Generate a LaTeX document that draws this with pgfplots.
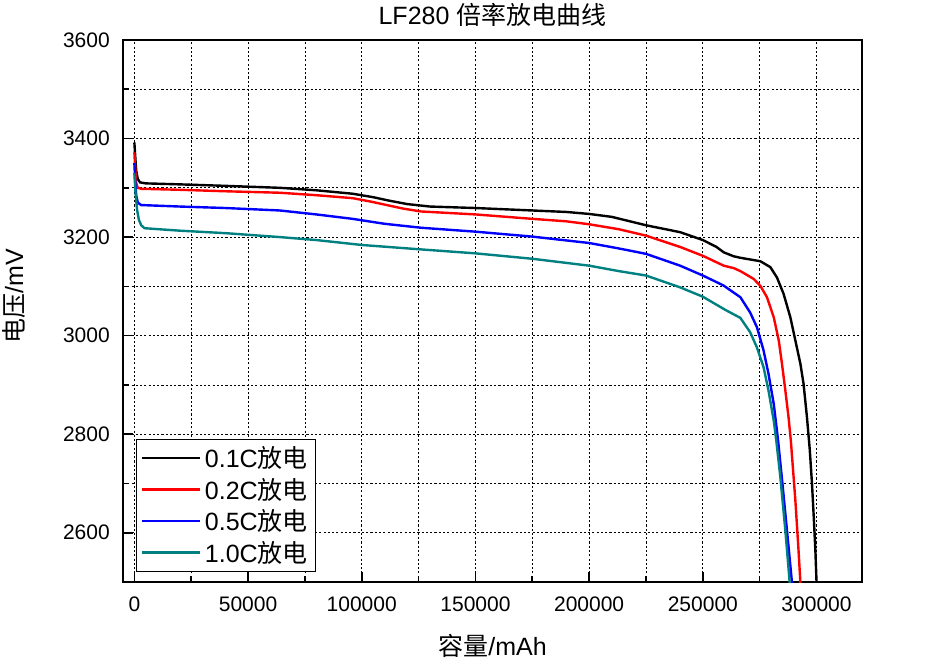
\documentclass[border=0pt]{standalone}
\usepackage{fontspec}
\setmainfont{Liberation Sans}
\newfontfamily\cjk{Noto Sans CJK SC}
\usepackage{pgfplots}
\pgfplotsset{compat=1.18}
\definecolor{cteal}{RGB}{0,128,128}
\definecolor{cred}{RGB}{255,0,0}
\definecolor{cblue}{RGB}{0,0,255}
\begin{document}
\begin{tikzpicture}
\begin{axis}[
  name=ax, scale only axis, width=554.25pt, height=406.5pt,
  xmin=-5000, xmax=320000, ymin=2500, ymax=3600,
  xtick={0,50000,...,300000}, ytick={2600,2800,...,3600},
  minor x tick num=1, minor y tick num=1,
  grid=both,
  major grid style={black, line width=0.6pt, dash pattern=on 1.6pt off 1.6pt},
  minor grid style={black, line width=0.6pt, dash pattern=on 1.6pt off 1.6pt},
  tick pos=left, tick align=inside,
  major tick length=7.5pt, minor tick length=4.5pt,
  every tick/.style={black, line width=1.2pt},
  axis line style={line width=1.4pt},
  scaled x ticks=false,
  /pgf/number format/assume math mode=true,
  /pgf/number format/fixed,
  /pgf/number format/precision=0,
  /pgf/number format/set thousands separator={},
  x tick label style={font=\fontsize{15.75pt}{18pt}\selectfont, anchor=base, inner sep=0pt, yshift=-22.3pt},
  y tick label style={font=\fontsize{15.75pt}{18pt}\selectfont, anchor=east, inner sep=0pt, xshift=-9.75pt},
  title={LF280 {\cjk 倍率放电曲线}},
  title style={font=\fontsize{18.75pt}{22pt}\selectfont, inner sep=0pt, at={(axis description cs:0.5,1.0258)}, anchor=base, yshift=-5pt},
  xlabel={{\cjk 容量}/mAh},
  xlabel style={font=\fontsize{18.75pt}{22pt}\selectfont, inner sep=0pt, at={(axis description cs:0.5,-0.1347)}, anchor=base},
  ylabel={{\cjk 电压}/mV},
  ylabel style={font=\fontsize{18.75pt}{22pt}\selectfont, inner sep=0pt, at={(axis description cs:-0.1353,0.5277)}, anchor=base},
  legend cell align=left,
  legend image code/.code={\draw[#1] (0pt,0pt) -- (44pt,0pt);},
  legend style={at={(axis description cs:0.0176,0.0185)}, anchor=south west,
    draw=black, line width=0.8pt, inner xsep=3pt, inner ysep=4.5pt,
    font=\fontsize{18.75pt}{22pt}\selectfont, row sep=4.3pt,
    nodes={inner xsep=2.5pt, inner ysep=1pt}},
  every axis plot/.append style={line width=1.8pt},
]
\addplot[black] coordinates {
(0,3392) (300,3370) (800,3335) (1500,3318) (2500,3311) (5000,3309) (20000,3307)
(40000,3304) (64000,3300) (80000,3295) (96000,3288) (105000,3281) (112000,3274)
(120000,3267) (130000,3262) (150000,3259) (175000,3254) (190000,3251) (200000,3247)
(210000,3241) (225000,3224) (240000,3210) (250000,3194) (256000,3180) (259200,3169)
(263600,3161) (266500,3158) (275300,3151) (279700,3139) (282600,3118) (285500,3085)
(288500,3037) (290700,2990) (292900,2943) (294300,2902) (295800,2834) (297000,2770)
(298000,2700) (298800,2630) (299500,2563) (300000,2500) (300100,2480)
};
\addlegendentry{0.1C{\cjk 放电}}
\addplot[cred] coordinates {
(0,3372) (300,3345) (800,3310) (1500,3300) (3000,3298) (20000,3296) (40000,3293)
(64000,3290) (80000,3285) (96000,3279) (104000,3272) (110000,3266) (118000,3258)
(126000,3252) (150000,3246) (175000,3237) (190000,3232) (200000,3226) (213000,3216)
(225000,3203) (240000,3180) (250000,3162) (259200,3142) (263600,3137) (266500,3131)
(272400,3115) (275300,3101) (278200,3078) (281200,3037) (283400,2990) (284800,2943)
(286300,2888) (287700,2834) (288700,2787) (290700,2665) (292100,2563) (292900,2499)
(293000,2480)
};
\addlegendentry{0.2C{\cjk 放电}}
\addplot[cblue] coordinates {
(0,3350) (300,3320) (800,3285) (1500,3270) (3000,3265) (20000,3262) (40000,3259)
(64000,3254) (80000,3246) (96000,3237) (110000,3227) (126000,3219) (150000,3211)
(175000,3201) (200000,3188) (213000,3177) (225000,3166) (240000,3142) (250000,3122)
(259000,3102) (266500,3078) (270800,3047) (273800,3017) (276700,2970) (278900,2922)
(281200,2861) (283100,2787) (285000,2700) (287000,2605) (289200,2499) (289300,2480)
};
\addlegendentry{0.5C{\cjk 放电}}
\addplot[cteal] coordinates {
(0,3330) (500,3290) (1200,3255) (2000,3235) (3000,3224) (4500,3218) (20000,3213)
(40000,3208) (64000,3200) (80000,3194) (100000,3184) (126000,3175) (150000,3167)
(175000,3156) (200000,3142) (213000,3131) (225000,3122) (240000,3098) (250000,3079)
(260000,3052) (266500,3036) (270800,3007) (273800,2976) (276700,2936) (278900,2888)
(281200,2827) (282300,2787) (284100,2712) (286300,2604) (288200,2499) (288300,2480)
};
\addlegendentry{1.0C{\cjk 放电}}
\end{axis}
\path (ax.south west) ++(-92.25pt,-61.5pt) coordinate (A);
\path (ax.north east) ++(67.5pt,30pt) coordinate (B);
\path (A) rectangle (B);
\end{tikzpicture}
\end{document}
